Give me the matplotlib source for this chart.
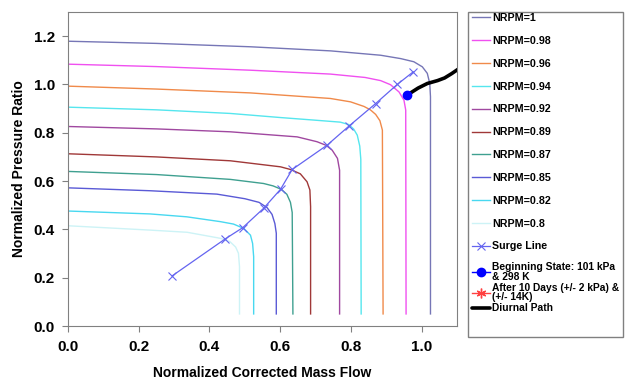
import matplotlib
matplotlib.use("Agg")
import matplotlib.pyplot as plt
from matplotlib.patches import Rectangle
from matplotlib.ticker import FormatStrFormatter

plt.rcParams["font.family"] = ["Liberation Sans", "DejaVu Sans"]

# speed lines (normalized mass flow, normalized pressure ratio)
nrpm_100_x = [0.0, 0.25, 0.516, 0.743, 0.884, 0.941, 0.978, 1.002, 1.016, 1.023, 1.025, 1.025]
nrpm_100_y = [1.179, 1.170, 1.156, 1.139, 1.121, 1.107, 1.094, 1.073, 1.046, 1.004, 0.949, 0.05]
nrpm_098_x = [0.0, 0.25, 0.516, 0.742, 0.840, 0.884, 0.912, 0.936, 0.950, 0.955, 0.956]
nrpm_098_y = [1.084, 1.074, 1.059, 1.043, 1.029, 1.016, 0.999, 0.969, 0.935, 0.894, 0.05]
nrpm_096_x = [0.0, 0.25, 0.516, 0.742, 0.799, 0.837, 0.855, 0.870, 0.882, 0.889, 0.891]
nrpm_096_y = [0.993, 0.981, 0.965, 0.942, 0.928, 0.909, 0.895, 0.876, 0.850, 0.811, 0.05]
nrpm_094_x = [0.0, 0.25, 0.459, 0.601, 0.70, 0.770, 0.794, 0.808, 0.818, 0.825, 0.828, 0.829]
nrpm_094_y = [0.906, 0.895, 0.880, 0.863, 0.852, 0.844, 0.834, 0.815, 0.790, 0.745, 0.690, 0.05]
nrpm_092_x = [0.0, 0.25, 0.459, 0.648, 0.704, 0.730, 0.747, 0.762, 0.768, 0.768]
nrpm_092_y = [0.826, 0.816, 0.804, 0.783, 0.763, 0.748, 0.728, 0.694, 0.645, 0.05]
nrpm_089_x = [0.0, 0.25, 0.459, 0.601, 0.629, 0.657, 0.676, 0.684, 0.686, 0.686]
nrpm_089_y = [0.713, 0.700, 0.684, 0.659, 0.648, 0.630, 0.597, 0.563, 0.494, 0.05]
nrpm_087_x = [0.0, 0.25, 0.459, 0.553, 0.580, 0.603, 0.619, 0.629, 0.634, 0.636]
nrpm_087_y = [0.640, 0.627, 0.607, 0.590, 0.580, 0.566, 0.545, 0.512, 0.470, 0.05]
nrpm_085_x = [0.0, 0.232, 0.421, 0.50, 0.540, 0.563, 0.577, 0.585, 0.589, 0.589]
nrpm_085_y = [0.572, 0.560, 0.546, 0.527, 0.512, 0.490, 0.462, 0.424, 0.384, 0.05]
nrpm_082_x = [0.0, 0.232, 0.336, 0.431, 0.468, 0.497, 0.516, 0.522, 0.525, 0.525]
nrpm_082_y = [0.476, 0.464, 0.452, 0.432, 0.422, 0.404, 0.376, 0.342, 0.287, 0.05]
nrpm_080_x = [0.0, 0.232, 0.337, 0.431, 0.458, 0.474, 0.482, 0.485, 0.485]
nrpm_080_y = [0.415, 0.397, 0.388, 0.363, 0.349, 0.327, 0.301, 0.245, 0.05]

speed_labels = ["NRPM=1", "NRPM=0.98", "NRPM=0.96", "NRPM=0.94", "NRPM=0.92",
                "NRPM=0.89", "NRPM=0.87", "NRPM=0.85", "NRPM=0.82", "NRPM=0.8"]
speed_colors = ["#7676b6", "#f050f0", "#f08a4a", "#55e6ee", "#a048a0",
                "#a03838", "#3fa090", "#5a5ad6", "#48d8f0", "#cdf3f6"]

surge_x = [0.295, 0.445, 0.494, 0.553, 0.601, 0.634, 0.733, 0.794, 0.870, 0.931, 0.976]
surge_y = [0.208, 0.361, 0.407, 0.487, 0.566, 0.648, 0.749, 0.827, 0.921, 1.000, 1.052]

start_x = [0.959]
start_y = [0.956]

# after 10 days points are not visible on the map
after_x = []
after_y = []

diurnal_x = [0.959, 0.99, 1.016, 1.045, 1.065, 1.085, 1.106]
diurnal_y = [0.956, 0.985, 1.004, 1.016, 1.027, 1.045, 1.066]

fig = plt.figure(figsize=(6.31, 3.79), dpi=100)
ax = fig.add_axes([68/631, 1 - 326/379, 389/631, 314/379])

speed_x = [nrpm_100_x, nrpm_098_x, nrpm_096_x, nrpm_094_x, nrpm_092_x,
           nrpm_089_x, nrpm_087_x, nrpm_085_x, nrpm_082_x, nrpm_080_x]
speed_y = [nrpm_100_y, nrpm_098_y, nrpm_096_y, nrpm_094_y, nrpm_092_y,
           nrpm_089_y, nrpm_087_y, nrpm_085_y, nrpm_082_y, nrpm_080_y]
handles = []
for xs, ys, lab, col in zip(speed_x, speed_y, speed_labels, speed_colors):
    h, = ax.plot(xs, ys, color=col, lw=1.0, label=lab)
    handles.append(h)

h_surge, = ax.plot(surge_x, surge_y, color="#6464f0", lw=0.9, marker="x", ms=6,
                   mew=0.8, label="Surge Line")
h_start, = ax.plot(start_x, start_y, color="#0000ff", lw=1.0, marker="o", ms=6,
                   label="Beginning State: 101 kPa\n& 298 K", zorder=5)
h_after, = ax.plot(after_x, after_y, color="#ff4040", lw=1.0, marker=(6, 2, 0), ms=7,
                   label="After 10 Days (+/- 2 kPa) &\n(+/- 14K)")
h_diurnal, = ax.plot(diurnal_x, diurnal_y, color="black", lw=2.6, label="Diurnal Path",
                     solid_capstyle="round", zorder=4)

ax.set_xlim(0, 1.1)
ax.set_ylim(0, 1.3)
ax.set_xticks([0.0, 0.2, 0.4, 0.6, 0.8, 1.0])
ax.set_yticks([0.0, 0.2, 0.4, 0.6, 0.8, 1.0, 1.2])
ax.xaxis.set_major_formatter(FormatStrFormatter("%.1f"))
ax.yaxis.set_major_formatter(FormatStrFormatter("%.1f"))
for s in ax.spines.values():
    s.set_color("#808080")
ax.tick_params(direction="out", length=4.5, color="#808080", labelsize=11)
ax.tick_params(axis="x", pad=5.5)
ax.tick_params(axis="y", pad=5)
for t in ax.get_xticklabels() + ax.get_yticklabels():
    t.set_fontweight("bold")

ax.set_xlabel("Normalized Corrected Mass Flow", fontsize=10, fontweight="bold")
ax.set_ylabel("Normalized Pressure Ratio", fontsize=10, fontweight="bold")
ax.xaxis.set_label_coords(0.5, (326 - 366) / 314)
ax.yaxis.set_label_coords((26 - 68) / 389, 0.5)

leg1 = fig.legend(handles=handles + [h_surge], loc="upper left",
                  bbox_to_anchor=(470/631, 1 - 11/379), frameon=False, fontsize=7.7,
                  handlelength=1.7, handletextpad=0.2, labelspacing=1.2,
                  borderaxespad=0, borderpad=0.2)
leg2 = fig.legend(handles=[h_start, h_after, h_diurnal], loc="upper left",
                  bbox_to_anchor=(470/631, 1 - 260/379), frameon=False, fontsize=7.4,
                  handlelength=1.75, handletextpad=0.2, labelspacing=0.1,
                  borderaxespad=0, borderpad=0.2)
for leg in (leg1, leg2):
    for t in leg.get_texts():
        t.set_fontweight("bold")
for t in leg2.get_texts():
    t.set_linespacing(0.95)

fig.patches.append(Rectangle((468/631, 1 - 337/379), 155/631, 325/379,
                             transform=fig.transFigure, fill=False,
                             edgecolor="#808080", lw=1.0))

fig.savefig("out.png", dpi=100)
